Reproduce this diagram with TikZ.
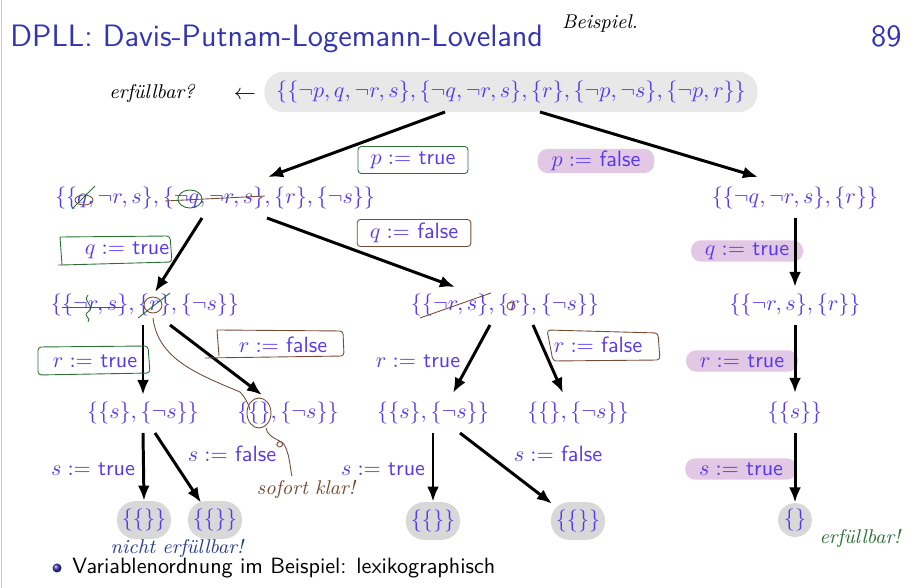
\documentclass[tikz,border=0pt]{standalone}
\usetikzlibrary{calc,arrows.meta}
\definecolor{titlecol}{RGB}{51,51,179}
\definecolor{setcol}{RGB}{88,56,238}
\definecolor{panel}{RGB}{232,232,232}
\definecolor{blobcol}{RGB}{216,216,216}
\definecolor{pinkcol}{RGB}{226,200,228}
\definecolor{penGreen}{RGB}{45,110,55}
\definecolor{penBrown}{RGB}{115,75,55}
\definecolor{penBlue}{RGB}{40,60,140}
\newcommand{\cl}[1]{\{#1\}}
\begin{document}
\begin{tikzpicture}[x=0.159mm, y=-0.159mm,
  set/.style={text=setcol, inner sep=1pt},
  asg/.style={text=setcol, font=\sffamily, inner sep=1pt},
  pill/.style={asg, fill=pinkcol, rounded corners=1.6mm, inner xsep=2.2mm, minimum height=3.4mm},
  blob/.style={set, fill=blobcol, rounded corners=2.9mm, inner sep=0pt, minimum width=8.6mm, minimum height=6mm},
  arr/.style={draw=black, -{Latex[length=2.4mm,width=1.9mm]}, line width=1.35pt},
  gbox/.style={draw=penGreen, thin, rounded corners=1.5pt},
  bbox/.style={draw=penBrown, thin, rounded corners=1.5pt},
  hand/.style={font=\itshape\small}]
  \useasboundingbox (0,0) rectangle (916,588);
  \draw[draw=black!20, thin] (1,0) -- (1,588);
  % title
  \node[text=titlecol, font=\sffamily\fontsize{14}{17}\selectfont, anchor=base west, inner sep=0pt] (title) at (10,47) {DPLL: Davis-Putnam-Logemann-Loveland};
  \node[text=titlecol, font=\sffamily\fontsize{14}{17}\selectfont, anchor=base east, inner sep=0pt] (page) at (902,47) {89};
  \node[hand, black] (bsp) at (600,24) {Beispiel.};
  % tree
  \node[set, fill=panel, rounded corners=3mm, minimum width=78.4mm, minimum height=6.4mm] (root) at (511,92) {$\{\cl{\neg p, q, \neg r, s}, \cl{\neg q, \neg r, s}, \cl{r}, \cl{\neg p, \neg s}, \cl{\neg p, r}\}$};
  \node[hand, black] (ask) at (152,93) {erfüllbar?};
  \node[black, inner sep=1pt] (askarr) at (245,95) {$\leftarrow$};
  \node[set] (l1a) at (215,198) {$\{\cl{q, \neg r, s}, \cl{\neg q, \neg r, s}, \cl{r}, \cl{\neg s}\}$};
  \node[set] (l1b) at (795,198) {$\{\cl{\neg q, \neg r, s}, \cl{r}\}$};
  \node[set] (l2a) at (145,305) {$\{\cl{\neg r, s}, \cl{r}, \cl{\neg s}\}$};
  \node[set] (l2b) at (505,305) {$\{\cl{\neg r, s}, \cl{r}, \cl{\neg s}\}$};
  \node[set] (l2c) at (795,305) {$\{\cl{\neg r, s}, \cl{r}\}$};
  \node[set] (l3a) at (143,413) {$\{\cl{s}, \cl{\neg s}\}$};
  \node[set] (l3b) at (288,413) {$\{\cl{}, \cl{\neg s}\}$};
  \node[set] (l3c) at (433,413) {$\{\cl{s}, \cl{\neg s}\}$};
  \node[set] (l3d) at (578,413) {$\{\cl{}, \cl{\neg s}\}$};
  \node[set] (l3e) at (795,413) {$\{\cl{s}\}$};
  \node[blob] (l4a) at (144,520) {$\{\cl{}\}$};
  \node[blob] (l4b) at (215,520) {$\{\cl{}\}$};
  \node[blob] (l4c) at (433,521) {$\{\cl{}\}$};
  \node[blob] (l4d) at (578,521) {$\{\cl{}\}$};
  \node[set, circle, fill=blobcol, minimum size=5.4mm, inner sep=0pt] (l4e) at (795,520) {$\{\}$};
  % assignments
  \node[asg, draw=penGreen, rounded corners=1.5pt, inner xsep=2mm, minimum height=4.3mm] (lpT) at (413,160) {$p := $ true};
  \node[pill] (lpF) at (596,161) {$p := $ false};
  \node[asg] (lqT) at (127,250) {$q := $ true};
  \node[asg, draw=penBrown, rounded corners=1.5pt, inner xsep=2mm, minimum height=4.3mm] (lqF) at (414,233) {$q := $ false};
  \node[pill] (lqT2) at (747,251) {$q := $ true};
  \node[asg] (lrT) at (95,361) {$r := $ true};
  \node[asg] (lrF) at (283,345) {$r := $ false};
  \node[asg] (lrT2) at (418,361) {$r := $ true};
  \node[asg] (lrF2) at (598,345) {$r := $ false};
  \node[pill] (lrT3) at (742,361) {$r := $ true};
  \node[asg] (lsT) at (93,469) {$s := $ true};
  \node[asg] (lsF) at (232,454) {$s := $ false};
  \node[asg] (lsT2) at (383,469) {$s := $ true};
  \node[asg] (lsF2) at (558,454) {$s := $ false};
  \node[pill] (lsT3) at (741,469) {$s := $ true};
  % arrows
  \draw[arr] ($(root)+(-66,20)$) -- ($(l1a)+(53,-21)$);
  \draw[arr] ($(root)+(29,20)$) -- ($(l1b)+(-37,-21)$);
  \draw[arr] ($(l1a)+(-13,20)$) -- ($(l2a)+(10,-13)$);
  \draw[arr] ($(l1a)+(52,20)$) -- ($(l2b)+(-50,-18)$);
  \draw[arr] ($(l1b)+(0,20)$) -- ($(l2c)+(0,-18)$);
  \draw[arr] ($(l2a)+(-2,20)$) -- ($(l3a)+(0,-18)$);
  \draw[arr] ($(l2a)+(25,20)$) -- ($(l3b)+(-26,-18)$);
  \draw[arr] ($(l2b)+(-15,20)$) -- ($(l3c)+(20,-20)$);
  \draw[arr] ($(l2b)+(28,20)$) -- ($(l3d)+(-15,-20)$);
  \draw[arr] ($(l2c)+(0,20)$) -- ($(l3e)+(0,-20)$);
  \draw[arr] ($(l3a)+(0,20)$) -- (l4a.north);
  \draw[arr] ($(l3a)+(12,20)$) -- ($(l4b.north)+(-14,2)$);
  \draw[arr] ($(l3c)+(0,20)$) -- (l4c.north);
  \draw[arr] ($(l3c)+(27,20)$) -- ($(l4d.north)+(-26,2)$);
  \draw[arr] ($(l3e)+(0,20)$) -- (l4e.north);
  % hand boxes
  \draw[gbox] (60,237) -- (170,236) -- (172,262) -- (62,265) -- (58,265) (62,265) -- (60,237);
  \draw[gbox] (38,347) -- (148,346) -- (150,373) -- (38,375) -- cycle;
  \draw[bbox] (217,330) -- (343,331) -- (344,356) -- (205,358) (219,356) -- (217,330);
  \draw[bbox] (547,330) -- (658,333) -- (660,360) -- (553,361) -- cycle;
  % strike marks
  \draw[penBrown, thin] (165,201) -- (265,196);
  \draw[penGreen, thin] (190,199) ellipse (12 and 9);
  \draw[penGreen, thin] (72,209) -- (95,186);
  \draw[penBrown, thin] (84,200) ellipse (9 and 5);
  \draw[penBrown, thin] (62,307) -- (122,307);
  \draw[penGreen, thin] (88,295) .. controls (82,302) and (96,306) .. (88,312) .. controls (82,316) and (92,318) .. (88,322);
  \draw[penBrown, thin] (153,305) ellipse (9 and 8);
  \draw[penGreen, thin] (138,318) -- (170,293);
  \draw[penBrown, thin] (420,318) -- (491,293);
  \draw[penBrown, thin] (511,306) circle (4);
  \draw[penBrown, thin] (153,318) .. controls (158,360) and (200,375) .. (240,392) .. controls (246,398) and (250,408) .. (250,410);
  \draw[penBrown, thin] (259,413) ellipse (12 and 15);
  \draw[penBrown, thin] (266,428) .. controls (268,440) and (286,440) .. (282,446) .. controls (276,450) and (274,440) .. (282,442) .. controls (290,450) and (290,470) .. (292,476);
  % notes
  \node[hand, text=penBrown] (klar) at (306,489) {sofort klar!};
  \node[hand, text=penBlue] (nsat) at (177,548) {nicht erfüllbar!};
  \node[hand, text=penGreen] (sat) at (860,538) {erfüllbar!};
  % bullet
  \shade[ball color=titlecol] (57,568) circle (4.5);
  \node[black, font=\sffamily, anchor=west, inner sep=0pt] (bul) at (72,568) {Variablenordnung im Beispiel: lexikographisch};
\end{tikzpicture}
\end{document}
